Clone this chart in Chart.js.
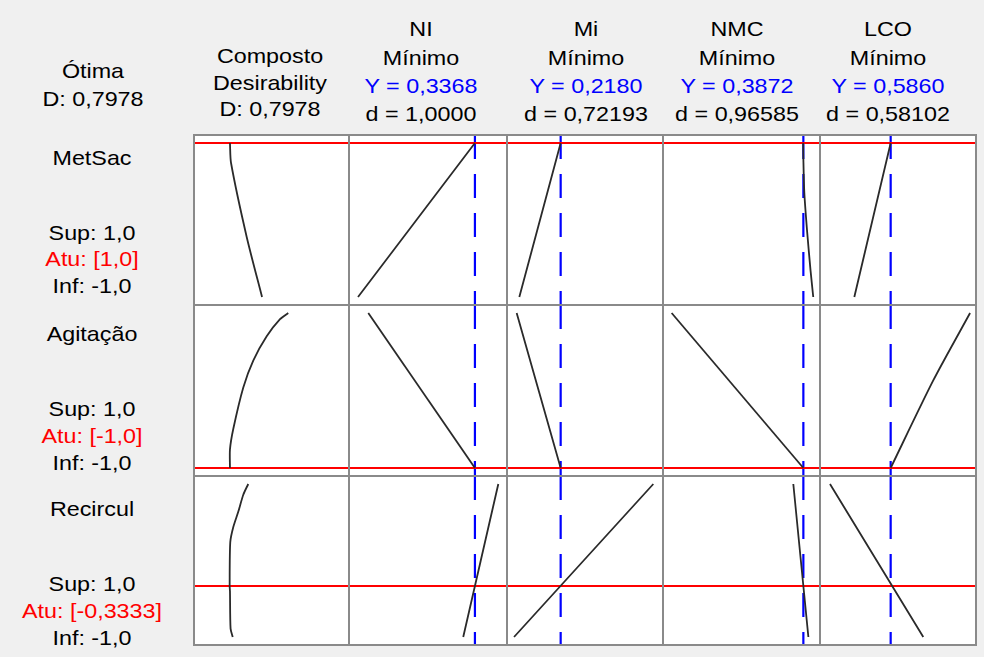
<!DOCTYPE html>
<html>
<head>
<meta charset="utf-8">
<script src="https://cdn.jsdelivr.net/npm/chart.js@4/dist/chart.umd.min.js"></script>
<style>
  html, body { margin:0; padding:0; background:#f0f0f0; }
  #root { position:relative; width:984px; height:657px; overflow:hidden; background:#f0f0f0;
          font-family:"Liberation Sans", Arial, sans-serif; }
  .t { position:absolute; white-space:nowrap; font-size:21px; color:#000; line-height:1;
       transform:translate(-50%,-50%) scaleX(1.11); }
  .cell { position:absolute; background:#fff; }
  .ln { position:absolute; background:#8a8a8a; }
</style>
</head>
<body>
<div id="root"></div>
<script>
// ---------------- DATA ----------------
const factorNames = ["MetSac", "Agitação", "Recircul"];
const factorHigh = [1.0, 1.0, 1.0];
const factorLow = [-1.0, -1.0, -1.0];
const factorSetting = [1.0, -1.0, -0.3333];

const responseNames = ["NI", "Mi", "NMC", "LCO"];
const responseGoals = ["Mínimo", "Mínimo", "Mínimo", "Mínimo"];
const predictedY = [0.3368, 0.2180, 0.3872, 0.5860];
const individualD = [1.0000, 0.72193, 0.96585, 0.58102];
const individualDDecimals = [4, 5, 5, 5];
const compositeD = 0.7978;

// current response positions (relative response scale 0..1 in each column)
const currentRel = [0.232, 0.797, 0.344, 0.894, 0.453];

// curves: [factor level, relative response]
const compMetSac = [[1, 0.232], [0.74, 0.239], [-0.22, 0.34], [-1, 0.439]];
const niMetSac = [[-1, 0.057], [1, 0.797]];
const miMetSac = [[-1, 0.079], [1, 0.344]];
const nmcMetSac = [[1, 0.893], [0.8, 0.894], [0.36, 0.90], [-0.15, 0.918], [-0.66, 0.94], [-1, 0.957]];
const lcoMetSac = [[-1, 0.22], [1, 0.453]];

const compAgitacao = [[-1, 0.232], [-0.76, 0.232], [-0.49, 0.254], [0.04, 0.318], [0.39, 0.383], [0.70, 0.469], [0.92, 0.555], [1, 0.608]];
const niAgitacao = [[1, 0.122], [-1, 0.797]];
const miAgitacao = [[1, 0.062], [-1, 0.344]];
const nmcAgitacao = [[1, 0.055], [-1, 0.894]];
const lcoAgitacao = [[-1, 0.453], [0.13, 0.726], [1, 0.962]];

const compRecircul = [[1, 0.35], [0.86, 0.318], [0.64, 0.286], [0.44, 0.254], [0.24, 0.234], [-0.333, 0.230], [-0.4, 0.232], [-0.89, 0.236], [-1, 0.25]];
const niRecircul = [[-1, 0.723], [1, 0.945]];
const miRecircul = [[-1, 0.045], [1, 0.938]];
const nmcRecircul = [[1, 0.830], [-1, 0.926]];
const lcoRecircul = [[1, 0.064], [-1, 0.662]];

const curves = [
  [compMetSac, niMetSac, miMetSac, nmcMetSac, lcoMetSac],
  [compAgitacao, niAgitacao, miAgitacao, nmcAgitacao, lcoAgitacao],
  [compRecircul, niRecircul, miRecircul, nmcRecircul, lcoRecircul]
];

// ---------------- LAYOUT ----------------
const colEdges = [194, 349, 507, 663, 820, 976];
const rowEdges = [135, 305, 476, 645];
const root = document.getElementById('root');
const fmt = (v, d) => v.toFixed(d).replace('.', ',');

function text(str, x, y, color) {
  const d = document.createElement('div');
  d.className = 't';
  d.textContent = str;
  d.style.left = x + 'px';
  d.style.top = y + 'px';
  if (color) d.style.color = color;
  root.appendChild(d);
}

// headers
text("Ótima", 93, 70);
text("D: " + fmt(compositeD, 4), 93, 98);
text("Composto", 270, 55);
text("Desirability", 270, 82);
text("D: " + fmt(compositeD, 4), 270, 108);
const headerX = [421, 586, 737, 888];
responseNames.forEach((n, i) => {
  text(n, headerX[i], 28);
  text(responseGoals[i], headerX[i], 57);
  text("Y = " + fmt(predictedY[i], 4), headerX[i], 85, "#0000ff");
  text("d = " + fmt(individualD[i], individualDDecimals[i]), headerX[i], 113);
});

// left labels
const rowLabelY = [[157, 232, 258, 285], [333, 408, 435, 462], [508, 583, 610, 637]];
factorNames.forEach((n, r) => {
  const ys = rowLabelY[r];
  text(n, 92, ys[0]);
  text("Sup: " + fmt(factorHigh[r], 1), 92, ys[1]);
  text("Atu: [" + fmt(factorSetting[r], Math.abs(factorSetting[r]) % 1 === 0 ? 1 : 4) + "]", 92, ys[2], "#ff0000");
  text("Inf: " + fmt(factorLow[r], 1), 92, ys[3]);
});

// cells with charts
for (let r = 0; r < 3; r++) {
  for (let c = 0; c < 5; c++) {
    const left = colEdges[c], top = rowEdges[r];
    const w = colEdges[c + 1] - left, h = rowEdges[r + 1] - top;
    const div = document.createElement('div');
    div.className = 'cell';
    div.style.left = left + 'px'; div.style.top = top + 'px';
    div.style.width = w + 'px'; div.style.height = h + 'px';
    const cv = document.createElement('canvas');
    cv.width = w; cv.height = h;
    cv.style.width = w + 'px'; cv.style.height = h + 'px';
    div.appendChild(cv);
    root.appendChild(div);

    const pad = 8 / ((h - 16) / 2);
    const yMin = -1 - pad, yMax = 1 + pad;
    const datasets = [
      {
        data: curves[r][c].map(p => ({ x: p[1], y: p[0] })),
        borderColor: '#2a2a2a', borderWidth: 1.8, showLine: true, pointRadius: 0, tension: 0.25
      },
      {
        data: [{ x: 0, y: factorSetting[r] }, { x: 1, y: factorSetting[r] }],
        borderColor: '#ff0000', borderWidth: 2.2, showLine: true, pointRadius: 0
      }
    ];
    if (c > 0) {
      datasets.push({
        data: [{ x: currentRel[c], y: yMax }, { x: currentRel[c], y: yMin }],
        borderColor: '#0000ff', borderWidth: 2.2, borderDash: [24, 15], showLine: true, pointRadius: 0
      });
    }
    new Chart(cv, {
      type: 'scatter',
      data: { datasets },
      options: {
        responsive: false, animation: false, devicePixelRatio: 1,
        layout: { padding: 0 },
        plugins: { legend: { display: false }, tooltip: { enabled: false } },
        scales: {
          x: { type: 'linear', min: 0, max: 1, display: false },
          y: { type: 'linear', min: yMin, max: yMax, display: false }
        }
      }
    });
  }
}

// grid lines
colEdges.forEach(x => {
  const d = document.createElement('div'); d.className = 'ln';
  d.style.left = (x - 1) + 'px'; d.style.top = (rowEdges[0] - 1) + 'px';
  d.style.width = '2px'; d.style.height = (rowEdges[3] - rowEdges[0] + 2) + 'px';
  root.appendChild(d);
});
rowEdges.forEach(y => {
  const d = document.createElement('div'); d.className = 'ln';
  d.style.left = (colEdges[0] - 1) + 'px'; d.style.top = (y - 1) + 'px';
  d.style.width = (colEdges[5] - colEdges[0] + 2) + 'px'; d.style.height = '2px';
  root.appendChild(d);
});
</script>
</body>
</html>
